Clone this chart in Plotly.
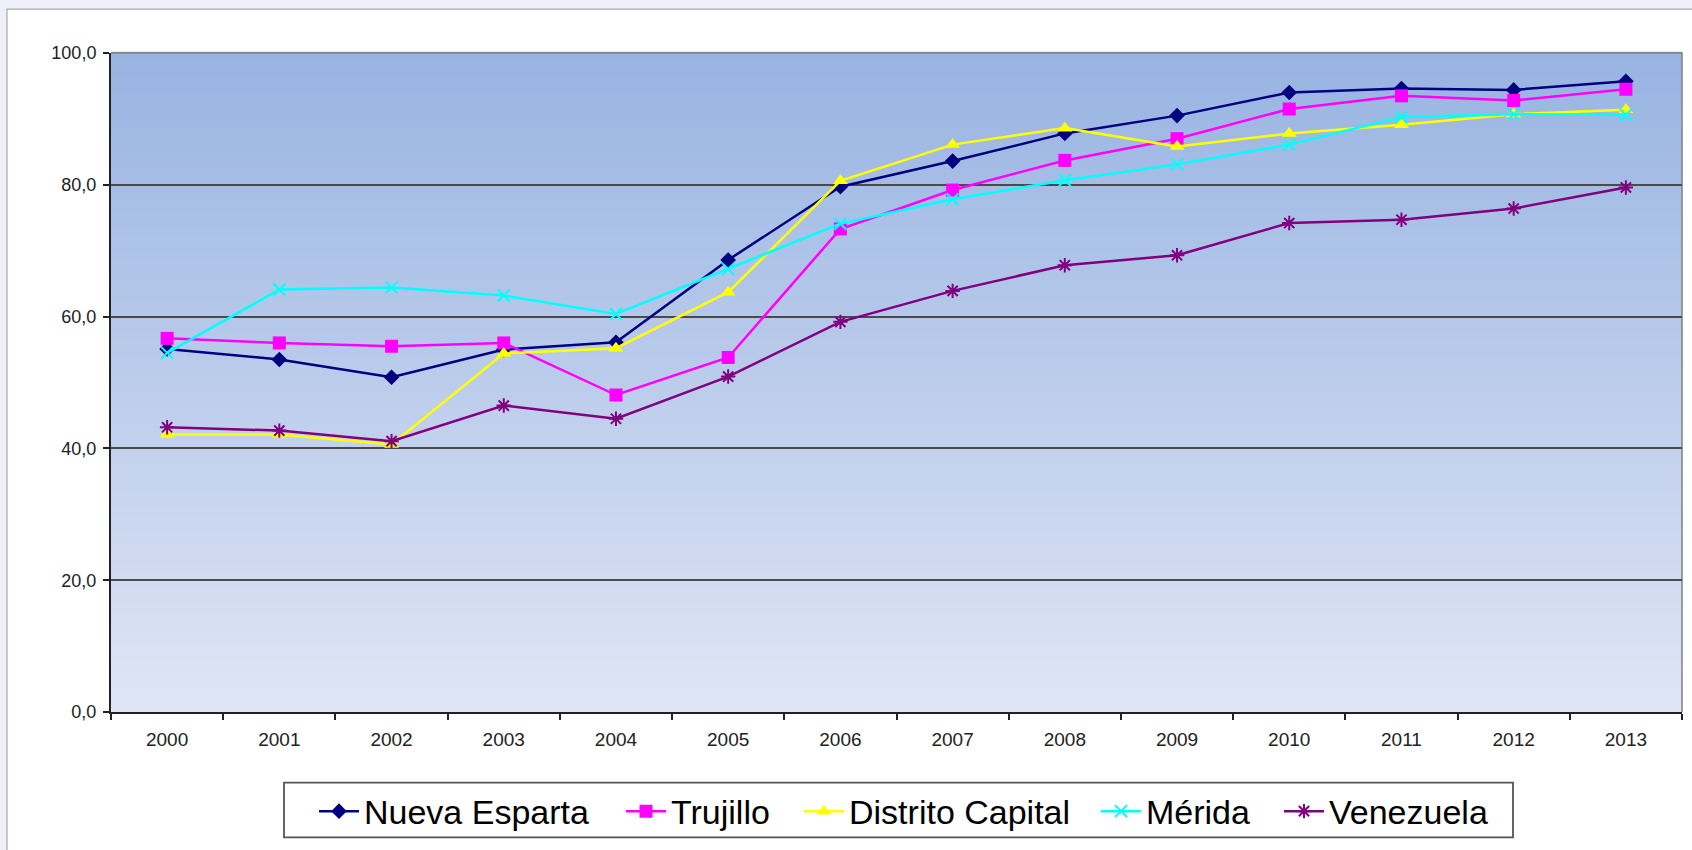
import plotly.graph_objects as go

years = ["2000", "2001", "2002", "2003", "2004", "2005", "2006", "2007",
         "2008", "2009", "2010", "2011", "2012", "2013"]

nueva_esparta = [55.1, 53.5, 50.8, 55.0, 56.1, 68.6, 79.7, 83.6, 87.8, 90.5, 94.0, 94.6, 94.4, 95.7]
trujillo = [56.7, 56.0, 55.5, 56.0, 48.1, 53.8, 73.3, 79.2, 83.7, 87.0, 91.5, 93.5, 92.8, 94.5]
distrito_capital = [42.1, 42.1, 40.6, 54.4, 55.2, 63.7, 80.6, 86.1, 88.6, 85.8, 87.8, 89.1, 90.7, 91.4]
merida = [54.5, 64.1, 64.4, 63.2, 60.4, 67.2, 74.1, 77.8, 80.7, 83.1, 86.1, 90.3, 90.7, 90.6]
venezuela = [43.2, 42.7, 41.1, 46.5, 44.5, 50.9, 59.2, 63.9, 67.8, 69.3, 74.2, 74.7, 76.4, 79.6]

series = [
    ("Nueva Esparta", nueva_esparta, "#000080", "diamond", 12, None),
    ("Trujillo", trujillo, "#ff00ff", "square", 13, None),
    ("Distrito Capital", distrito_capital, "#ffff00", "triangle-up", 13, None),
    ("Mérida", merida, "#00ffff", "x-thin", 12, "#00ffff"),
    ("Venezuela", venezuela, "#800080", "asterisk", 12, "#800080"),
]

# Paper dimensions
W, H = 1692, 850
ml, mr, mt, mb = 111, 10, 53, 135
pw = W - ml - mr
ph = H - mt - mb

def px_to_paper_x(px):
    return (px - ml) / pw

def px_to_paper_y(py):
    return (H - mb - py) / ph

# legend text start positions (px) in reference
legend_text_px = [364, 671, 849, 1146, 1329]
legend_names = ["legend", "legend2", "legend3", "legend4", "legend5"]

fig = go.Figure()
for (name, vals, color, sym, size, lc), lg in zip(series, legend_names):
    marker = dict(symbol=sym, size=size, color=color)
    if lc:
        marker["line"] = dict(color=lc, width=2)
    fig.add_trace(go.Scatter(
        x=years, y=vals, name=name, mode="lines+markers",
        line=dict(color=color, width=2.5), marker=marker, legend=lg,
    ))

shapes = []
# white panel with gray border
shapes.append(dict(type="rect", xref="paper", yref="paper",
                   x0=px_to_paper_x(7), x1=px_to_paper_x(1710),
                   y0=px_to_paper_y(870), y1=px_to_paper_y(9),
                   fillcolor="white", line=dict(color="#a8a8b0", width=1.2),
                   layer="below"))
# gradient background in plot area
n = 80
top = (152, 180, 226)
bot = (223, 229, 245)
for i in range(n):
    t = i / (n - 1)
    c = tuple(round(bot[k] + (top[k] - bot[k]) * t) for k in range(3))
    shapes.append(dict(type="rect", xref="x domain", yref="y domain",
                       x0=0, x1=1, y0=i / n, y1=(i + 1) / n + 0.002,
                       fillcolor="rgb(%d,%d,%d)" % c, line=dict(width=0),
                       layer="below"))
# top/right plot border
shapes.append(dict(type="path", xref="x domain", yref="y domain",
                   path="M 0 1 L 1 1 L 1 0", line=dict(color="#808080", width=1.5),
                   layer="below"))
# legend box
shapes.append(dict(type="rect", xref="paper", yref="paper",
                   x0=px_to_paper_x(284), x1=px_to_paper_x(1513),
                   y0=px_to_paper_y(841), y1=px_to_paper_y(786),
                   fillcolor="white", line=dict(color="#555555", width=1.8),
                   layer="below"))

legend_font = dict(family="Liberation Sans, Arial, sans-serif",
                   size=34, color="#000000")
legend_cfg = {}
for lg, tx in zip(legend_names, legend_text_px):
    legend_cfg[lg] = dict(
        orientation="h", x=px_to_paper_x(tx - 50), xanchor="left",
        y=px_to_paper_y(815), yanchor="middle",
        font=legend_font, bgcolor="rgba(0,0,0,0)", borderwidth=0,
        itemwidth=40,
    )

fig.update_layout(
    width=W, height=H,
    margin=dict(l=ml, r=mr, t=mt, b=mb),
    paper_bgcolor="#eff0fa",
    plot_bgcolor="rgba(0,0,0,0)",
    separators=",.",
    font=dict(family="Liberation Sans, Arial, sans-serif", color="#222222", size=18),
    shapes=shapes,
    showlegend=True,
    xaxis=dict(
        type="category", range=[-0.5, 13.5],
        showline=True, linecolor="#222222", linewidth=2,
        ticks="outside", tickson="boundaries", ticklen=6, tickcolor="#222222",
        tickwidth=1.5, showgrid=False, tickfont=dict(size=19),
        ticklabelstandoff=9,
    ),
    yaxis=dict(
        range=[0, 100], dtick=20, tickformat=".1f",
        showline=True, linecolor="#222222", linewidth=2,
        ticks="outside", ticklen=6, tickcolor="#222222", tickwidth=1.5,
        showgrid=True, gridcolor="#4a4a4a", gridwidth=1.5,
        zeroline=False, tickfont=dict(size=18), ticklabelstandoff=3,
    ),
    **legend_cfg,
)

fig.write_html("out.html", config={"displayModeBar": False},
               post_script="document.body.style.margin='0px';")
